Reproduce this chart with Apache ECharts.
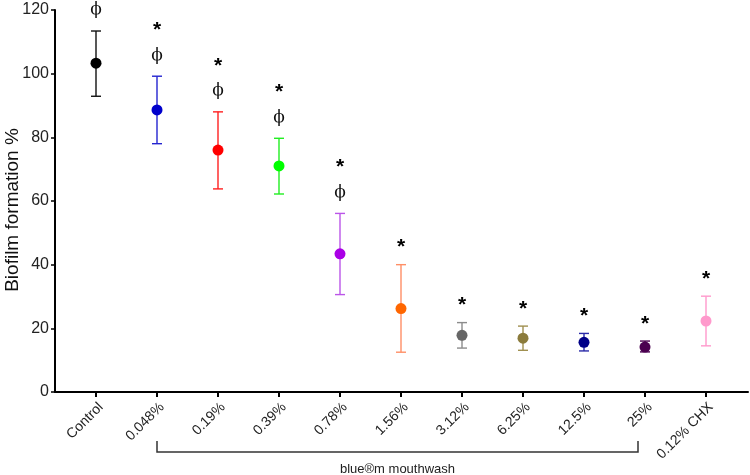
<!DOCTYPE html>
<html>
<head>
<meta charset="utf-8">
<script src="https://cdn.jsdelivr.net/npm/echarts@6/dist/echarts.min.js"></script>
<style>
  html, body { margin: 0; padding: 0; background: #fff; }
  #main { width: 750px; height: 475px; }
</style>
</head>
<body>
<div id="main"></div>
<script>
// categories and values
const categories = ['Control', '0.048%', '0.19%', '0.39%', '0.78%', '1.56%', '3.12%', '6.25%', '12.5%', '25%', '0.12% CHX'];
const means = [103.3, 88.6, 76.0, 71.0, 43.4, 26.2, 17.8, 16.9, 15.6, 14.1, 22.3];
const errTop = [113.4, 99.2, 88.0, 79.7, 56.1, 40.0, 21.8, 20.7, 18.4, 16.0, 30.1];
const errBottom = [92.9, 78.0, 63.8, 62.2, 30.6, 12.5, 13.8, 13.1, 12.9, 12.6, 14.5];
const starMarks = [false, true, true, true, true, true, true, true, true, true, true];
const phiMarks = [true, true, true, true, true, false, false, false, false, false, false];
const yTicks = [0, 20, 40, 60, 80, 100, 120];
const bracketFrom = 1;
const bracketTo = 9;
const bracketLabel = 'blue®m mouthwash';

const pointColors = ['#000000', '#0000cc', '#ff0000', '#00ff00', '#aa00e6', '#ff6600', '#666666', '#8b7b3b', '#000088', '#4b0050', '#ff99cc'];
const barColors = ['#111111', '#2424d0', '#ff2020', '#22ee22', '#bb55e8', '#ff8f66', '#8c8c8c', '#a09050', '#2a2aa8', '#4b0050', '#ff99cc'];

const FONT = 'Liberation Sans, Arial, sans-serif';

const chart = echarts.init(document.getElementById('main'));

const option = {
  animation: false,
  backgroundColor: '#fff',
  grid: [
    // frame grid: holds the visible y axis and the x axis line
    { left: 55, right: 2, top: 10, bottom: 83, outerBoundsMode: 'none' },
    // data grid: categories centred on the ticks
    { left: 65.5, right: 13.5, top: 10, bottom: 83, outerBoundsMode: 'none' }
  ],
  xAxis: [
    {
      gridIndex: 0,
      type: 'value',
      min: 0,
      max: 1,
      axisLine: { show: true, lineStyle: { color: '#000', width: 2 } },
      axisTick: { show: false },
      axisLabel: { show: false },
      splitLine: { show: false }
    },
    {
      gridIndex: 1,
      type: 'category',
      data: categories,
      boundaryGap: true,
      axisLine: { show: false },
      axisTick: { show: true, alignWithLabel: true, length: 5, lineStyle: { color: '#000', width: 2 } },
      axisLabel: {
        interval: 0,
        rotate: 45,
        margin: 8,
        verticalAlign: 'top',
        color: '#222',
        fontSize: 14,
        fontFamily: FONT
      },
      splitLine: { show: false }
    }
  ],
  yAxis: [
    {
      gridIndex: 0,
      type: 'value',
      min: 0,
      max: 120,
      interval: 20,
      name: 'Biofilm formation %',
      nameLocation: 'middle',
      nameGap: 33,
      nameMoveOverlap: false,
      nameTextStyle: { color: '#111', fontSize: 19, fontFamily: FONT, padding: [0, 18, 0, 0] },
      axisLine: { show: true, lineStyle: { color: '#000', width: 2 } },
      axisTick: { show: true, length: 4, lineStyle: { color: '#000', width: 1.5 } },
      axisLabel: {
        margin: 6,
        color: '#222',
        fontSize: 16,
        fontFamily: FONT,
        formatter: (v) => (yTicks.indexOf(v) >= 0 ? String(v) : '')
      },
      splitLine: { show: false }
    },
    {
      gridIndex: 1,
      type: 'value',
      min: 0,
      max: 120,
      interval: 20,
      show: false
    }
  ],
  series: [
    {
      // error bars
      type: 'custom',
      xAxisIndex: 1,
      yAxisIndex: 1,
      z: 2,
      data: categories.map((c, i) => [i, errBottom[i], errTop[i]]),
      renderItem: function (params, api) {
        const i = api.value(0);
        const lo = api.coord([i, api.value(1)]);
        const hi = api.coord([i, api.value(2)]);
        const half = 5;
        const style = { stroke: barColors[params.dataIndex], lineWidth: 1.4, fill: null };
        return {
          type: 'group',
          children: [
            { type: 'line', shape: { x1: lo[0], y1: lo[1], x2: hi[0], y2: hi[1] }, style: style },
            { type: 'line', shape: { x1: hi[0] - half, y1: hi[1], x2: hi[0] + half, y2: hi[1] }, style: style },
            { type: 'line', shape: { x1: lo[0] - half, y1: lo[1], x2: lo[0] + half, y2: lo[1] }, style: style }
          ]
        };
      }
    },
    {
      // means
      type: 'scatter',
      xAxisIndex: 1,
      yAxisIndex: 1,
      z: 3,
      symbol: 'circle',
      symbolSize: 11,
      data: means.map((m, i) => ({ value: [i, m], itemStyle: { color: pointColors[i], opacity: 1 } }))
    },
    {
      // significance marks above the error bars
      type: 'custom',
      xAxisIndex: 1,
      yAxisIndex: 1,
      z: 4,
      clip: false,
      data: categories.map((c, i) => [i, errTop[i]]),
      renderItem: function (params, api) {
        const k = params.dataIndex;
        const p = api.coord([api.value(0), api.value(1)]);
        const children = [];
        let y = p[1] - 21;
        if (phiMarks[k]) {
          children.push({
            type: 'text',
            style: { x: p[0], y: y, text: 'ϕ', fill: '#111', font: '17px "DejaVu Serif", serif', align: 'center', verticalAlign: 'middle' }
          });
          y -= 28;
        } else {
          y += 1;
        }
        if (starMarks[k]) {
          children.push({
            type: 'text',
            style: { x: p[0], y: y + 3, text: '*', fill: '#000', font: 'bold 21px ' + FONT, align: 'center', verticalAlign: 'middle' }
          });
        }
        return { type: 'group', children: children };
      }
    },
    {
      // bracket under the mouthwash dilutions
      type: 'custom',
      xAxisIndex: 1,
      yAxisIndex: 1,
      clip: false,
      data: [[bracketFrom, bracketTo]],
      renderItem: function (params, api) {
        const a = api.coord([api.value(0), 0]);
        const b = api.coord([api.value(1), 0]);
        const x2 = b[0] - 7;
        const top = a[1] + 49;
        const bottom = a[1] + 60;
        return {
          type: 'group',
          children: [
            {
              type: 'polyline',
              shape: { points: [[a[0], top], [a[0], bottom], [x2, bottom], [x2, top]] },
              style: { stroke: '#333', lineWidth: 1.5, fill: null }
            },
            {
              type: 'text',
              style: { x: (a[0] + x2) / 2, y: bottom + 17, text: bracketLabel, fill: '#222', font: '13px ' + FONT, align: 'center', verticalAlign: 'middle' }
            }
          ]
        };
      }
    }
  ]
};

chart.setOption(option);
</script>
</body>
</html>
